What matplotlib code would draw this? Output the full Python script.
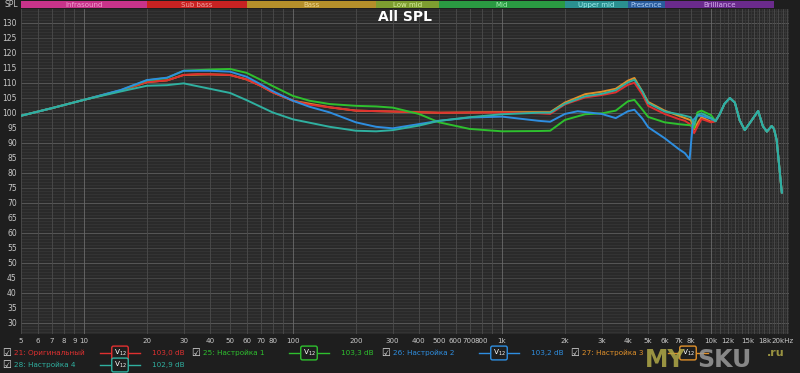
import numpy as np
import matplotlib.pyplot as plt
from matplotlib.lines import Line2D

# ---- data ----
tail_f = [10500, 11000, 11600, 12300, 13000, 13700, 14500, 15800, 16800,
          17700, 18500, 19500, 20000, 20600, 21200, 21800]
tail_spl = [97.2, 99.5, 103, 104.9, 103.4, 97.5, 94.2, 97.9, 100.6,
            95.5, 93.7, 95.6, 94.6, 90.9, 82, 73.4]

red_f = [5, 7, 10, 15, 20, 25, 30, 35, 40, 50, 60, 70, 80, 100, 120, 150, 200,
         300, 500, 1000, 1500, 1700, 2000, 2500, 3000, 3500, 4000, 4300, 4700,
         5000, 6000, 7000, 7500, 8000, 8300, 8700, 9000, 10000]
red_spl = [99, 101.5, 104.3, 107.4, 110.2, 110.8, 112.6, 112.9, 112.8, 112.6,
           111.1, 109, 106.8, 104, 102.7, 101.8, 100.7, 100.4, 100, 100.1, 99.8,
           99.6, 102.8, 105.1, 105.9, 106.8, 109.3, 110, 106, 102.3, 99.6, 97.9,
           97.3, 96, 93.2, 96, 97.9, 96.8]

green_f = [5, 7, 10, 15, 20, 25, 30, 40, 50, 60, 70, 80, 100, 120, 150, 200,
           250, 300, 400, 500, 700, 1000, 1500, 1700, 2000, 2500, 3000, 3500,
           4000, 4300, 4700, 5000, 6000, 7000, 8000, 8300, 8600, 9000, 10000]
green_spl = [99, 101.5, 104.3, 107.5, 110.8, 111.6, 114, 114.4, 114.6, 113.3,
             111, 108.9, 105.6, 104, 102.9, 102.3, 102.1, 101.7, 99.6, 96.8,
             94.6, 93.8, 93.9, 94, 97.6, 99.5, 99.8, 100.7, 103.8, 104.3, 101,
             98.6, 96.8, 96.2, 95.8, 95, 100.1, 100.7, 99.2]

blue_f = [5, 7, 10, 15, 20, 25, 30, 40, 50, 60, 70, 80, 100, 120, 150, 200, 250,
          300, 400, 500, 700, 1000, 1500, 1700, 2000, 2300, 3000, 3500, 4000,
          4300, 4700, 5000, 6000, 7000, 7500, 7900, 8200, 8600, 9000, 10000]
blue_spl = [99, 101.5, 104.3, 107.6, 110.9, 111.7, 114, 114, 113.7, 112, 109.5,
            107.2, 104, 102, 100.1, 96.8, 95.3, 94.8, 96.2, 97.3, 98.4, 98.7,
            97.3, 97, 99.6, 100.5, 99.6, 98.2, 100.5, 101, 98, 95.2, 91.5, 87.9,
            86.5, 84.5, 97.5, 99, 99, 98]

orange_f = [5, 7, 10, 15, 20, 25, 30, 40, 50, 60, 70, 80, 100, 150, 200, 300,
            500, 1000, 1500, 1700, 2000, 2500, 3000, 3500, 4000, 4300, 4700,
            5000, 6000, 7000, 8000, 8300, 8700, 9000, 10000]
orange_spl = [99, 101.5, 104.3, 107.4, 110.2, 110.8, 112.6, 112.8, 112.6, 111.1,
              109, 106.8, 104, 101.8, 100.7, 100.4, 100, 100.2, 100.2, 100.2,
              103.4, 106.2, 107, 108, 110.7, 111.6, 107, 103.6, 100.7, 99, 97.5,
              94.5, 97, 98.5, 97]

teal_f = [5, 7, 10, 15, 20, 25, 30, 40, 50, 60, 70, 80, 100, 150, 200, 250, 300,
          400, 500, 700, 1000, 1500, 1700, 2000, 2500, 3000, 3500, 4000, 4300,
          4700, 5000, 6000, 7000, 8000, 8300, 8600, 9000, 10000]
teal_spl = [99, 101.5, 104.3, 107.1, 109, 109.2, 109.8, 108, 106.6, 104.2, 102,
            100.1, 97.8, 95.3, 94, 93.8, 94.2, 95.7, 97.3, 98.5, 99.5, 100, 100,
            103, 105.5, 106.3, 107.5, 110.1, 111, 107, 103.2, 100.4, 99.5, 98.5,
            96, 99.3, 99.8, 98.3]

series = [
    ("27: Настройка 3", orange_f, orange_spl, "#e0902a"),
    ("21: Оригинальный", red_f, red_spl, "#e03030"),
    ("25: Настройка 1", green_f, green_spl, "#2ec02e"),
    ("26: Настройка 2", blue_f, blue_spl, "#2e8ee0"),
    ("28: Настройка 4", teal_f, teal_spl, "#2fb0a0"),
]

bands = ["Infrasound", "Sub bass", "Bass", "Low mid", "Mid", "Upper mid",
         "Presence", "Brilliance"]
band_edges = [5, 20, 60, 250, 500, 2000, 4000, 6000, 20000]
band_colors = ["#c8338a", "#c82222", "#b58f2a", "#7e9e30", "#2a9a42",
               "#2a9090", "#2a5c9c", "#6a2a8c"]
band_text = ["#f0a0d0", "#f0a0a0", "#f0d890", "#d8f0a0", "#a0f0b0",
             "#a0f0f0", "#b0d0f8", "#d8b0f0"]

xticks = [5, 6, 7, 8, 9, 10, 20, 30, 40, 50, 60, 70, 80, 100, 200, 300, 400,
          500, 600, 700, 800, 1000, 2000, 3000, 4000, 5000, 6000, 7000, 8000,
          10000, 12000, 15000, 18000]
xlabels = ["5", "6", "7", "8", "9", "10", "20", "30", "40", "50", "60", "70",
           "80", "100", "200", "300", "400", "500", "600", "700", "800", "1k",
           "2k", "3k", "4k", "5k", "6k", "7k", "8k", "10k", "12k", "15k", "18k"]

legend_rows = [
    (7, 353, "21: Оригинальный", "#e03030", "103,0 dB"),
    (196, 353, "25: Настройка 1", "#2ec02e", "103,3 dB"),
    (386, 353, "26: Настройка 2", "#2e8ee0", "103,2 dB"),
    (575, 353, "27: Настройка 3", "#e0902a", ""),
    (7, 365, "28: Настройка 4", "#2fb0a0", "102,9 dB"),
]

# ---- plotting ----
fig = plt.figure(figsize=(8, 3.73), dpi=100, facecolor="#1e1e1e")
ax = fig.add_axes([21 / 800, 39 / 373, 768 / 800, 325 / 373])
ax.set_facecolor("#2a2a2a")
ax.set_xscale("log")
ax.set_xlim(5, 23600)
ax.set_ylim(26.2, 134.6)

# grid
for v in range(27, 135):
    if v % 10 == 0:
        c = "#5e5e5e"
    elif v % 5 == 0:
        c = "#4a4a4a"
    else:
        c = "#353535"
    ax.axhline(v, color=c, lw=0.6, zorder=1)
vlines = list(range(5, 10)) + list(range(10, 100, 10)) + list(range(100, 1000, 100)) \
    + list(range(1000, 10000, 1000)) + list(range(10000, 24000, 1000))
for f in vlines:
    c = "#6a6a6a" if f in (10, 100, 1000, 10000) else "#4c4c4c"
    ax.axvline(f, color=c, lw=0.6, zorder=1)
for f in range(10500, 24000, 1000):
    ax.axvline(f, color="#3a3a3a", lw=0.5, zorder=1)

for name, f, s, col in series:
    ax.plot(f + tail_f, s + tail_spl, color=col, lw=1.4, zorder=3,
            solid_joinstyle="round")

ax.set_xticks(xticks)
ax.set_xticklabels(xlabels)
ax.minorticks_off()
ax.set_yticks(range(30, 135, 5))
ax.tick_params(axis="x", colors="#c8c8c8", labelsize=5.1, length=0, pad=3)
ax.tick_params(axis="y", colors="#c8c8c8", labelsize=5.5, length=0, pad=3)
for sp in ax.spines.values():
    sp.set_visible(False)
# last frequency label sits right of its grid line
fig.text(771 / 800, 1 - 341 / 373, "20kHz", color="#c8c8c8", fontsize=5.1,
         ha="left", va="center")

ax.text(0.5, 0.975, "All SPL", transform=ax.transAxes, color="white",
        fontsize=10, fontweight="bold", ha="center", va="center", zorder=5)

# frequency band bar
bx = fig.add_axes([21 / 800, 365 / 373, 768 / 800, 7 / 373])
bx.set_xscale("log")
bx.set_xlim(5, 23600)
bx.set_ylim(0, 1)
bx.axis("off")
for i, b in enumerate(bands):
    lo, hi = band_edges[i], band_edges[i + 1]
    bx.axvspan(lo, hi, color=band_colors[i], lw=0)
    bx.text(np.sqrt(lo * hi), 0.45, b, color=band_text[i], fontsize=5,
            ha="center", va="center")
fig.text(11 / 800, 1 - 4.5 / 373, "SPL", color="#c8c8c8", fontsize=5.5,
         ha="center", va="center")

# legend rows
for x0, y0, name, col, db in legend_rows:
    yf = 1 - y0 / 373
    fig.text(x0 / 800, yf, "\u2611", color="#e8e8e8", fontsize=7,
             ha="center", va="center")
    fig.text((x0 + 7) / 800, yf, name, color=col, fontsize=5.2, va="center")
    cx = x0 + 113
    fig.add_artist(Line2D([(cx - 20) / 800, (cx + 20) / 800], [yf, yf],
                          color=col, lw=1, transform=fig.transFigure))
    fig.text(cx / 800, yf, "V$_{12}$", color="white", fontsize=5.2,
             ha="center", va="center",
             bbox=dict(boxstyle="round,pad=0.25", fc="#1e1e1e", ec=col, lw=1))
    if db:
        fig.text((x0 + 145) / 800, yf, db, color=col, fontsize=5.2, va="center")

# watermark
fig.text(645 / 800, 1 - 360 / 373, "MY", color="#b0a848", fontsize=17,
         fontweight="bold", va="center", alpha=0.85)
fig.text(697 / 800, 1 - 360 / 373, "SKU", color="#9a9a9a", fontsize=17,
         fontweight="bold", va="center", alpha=0.85)
fig.text(767 / 800, 1 - 353 / 373, ".ru", color="#b0a848", fontsize=8,
         fontweight="bold", va="center", alpha=0.85)

fig.savefig("out.png", dpi=100, facecolor=fig.get_facecolor())
